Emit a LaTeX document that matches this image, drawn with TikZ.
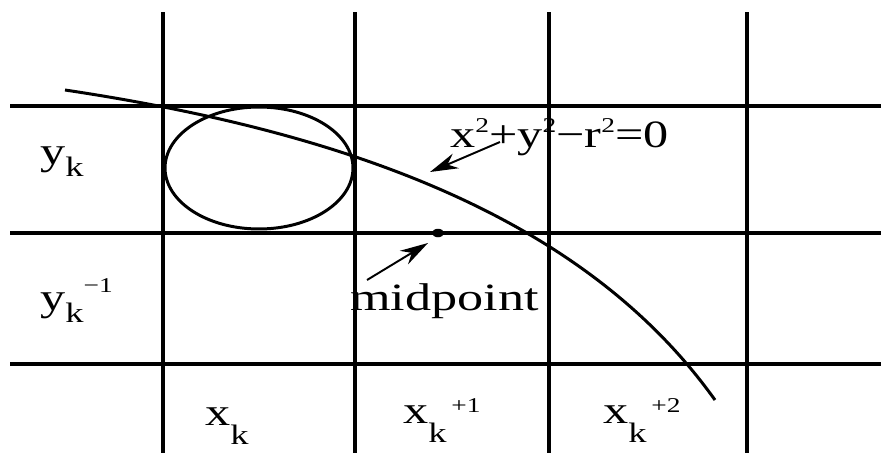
\documentclass[tikz,border=0pt]{standalone}
\usepackage{fontspec}
\setmainfont{Liberation Serif}
\usepackage{graphicx}
\usepackage{tikz}
\usetikzlibrary{arrows.meta}
\newcommand{\subk}[1]{\raisebox{-#1}{\fontsize{16}{16}\selectfont k}}
\newcommand{\supn}[2]{\raisebox{#1}{\fontsize{12}{12}\selectfont #2}}

\begin{document}
\begin{tikzpicture}[x=0.02cm,y=-0.02cm,
    lbl/.style={font=\fontsize{22}{24}\selectfont,inner sep=0pt,anchor=base west},
    gridline/.style={line width=2pt},
    curve/.style={line width=1.7pt},
    pointer/.style={line width=1.1pt,-{Stealth[length=16pt,width=9pt]}}]
  \useasboundingbox (0,0) rectangle (881,453);
  % pixel grid
  \foreach \x in {163,355,549,747} {\draw[gridline] (\x,12) -- (\x,453);}
  \foreach \y in {106,233,364} {\draw[gridline] (10,\y) -- (881,\y);}
  % the circle and the pixel spot
  \draw[curve] (65,90) .. controls (365,135) and (590,225) .. (715,400);
  \draw[curve] (259,168) ellipse [x radius=1.88cm,y radius=1.22cm];
  \fill (438,233) ellipse [x radius=0.12cm,y radius=0.085cm];
  % row and column labels
  \node[lbl] (yk)  at (40,164)  {\scalebox{1.3}[1]{y\subk{7pt}}};
  \node[lbl] (ykm) at (40,310)  {\scalebox{1.3}[1]{y\subk{7pt}\supn{10pt}{−1}}};
  \node[lbl] (xk)  at (205,425) {\scalebox{1.3}[1]{x\subk{11pt}}};
  \node[lbl] (xk1) at (403,423) {\scalebox{1.3}[1]{x\subk{11pt}\hspace{2pt}\supn{6pt}{+1}}};
  \node[lbl] (xk2) at (603,423) {\scalebox{1.3}[1]{x\subk{11pt}\hspace{2pt}\supn{6pt}{+2}}};
  \node[lbl] (mid) at (350,310) {\scalebox{1.35}[1]{midpoint}};
  \node[lbl] (eq)  at (450,147) {\scalebox{1.3}[1]{x\supn{8pt}{2}+y\supn{8pt}{2}−r\supn{8pt}{2}=0}};
  % pointers
  \coordinate (eqtail) at (500,142);
  \coordinate (eqtip) at (430,172);
  \coordinate (midtail) at (367,280);
  \coordinate (midtip) at (428,243);
  \draw[pointer] (eqtail) -- (eqtip);
  \draw[pointer] (midtail) -- (midtip);
\end{tikzpicture}
\end{document}
